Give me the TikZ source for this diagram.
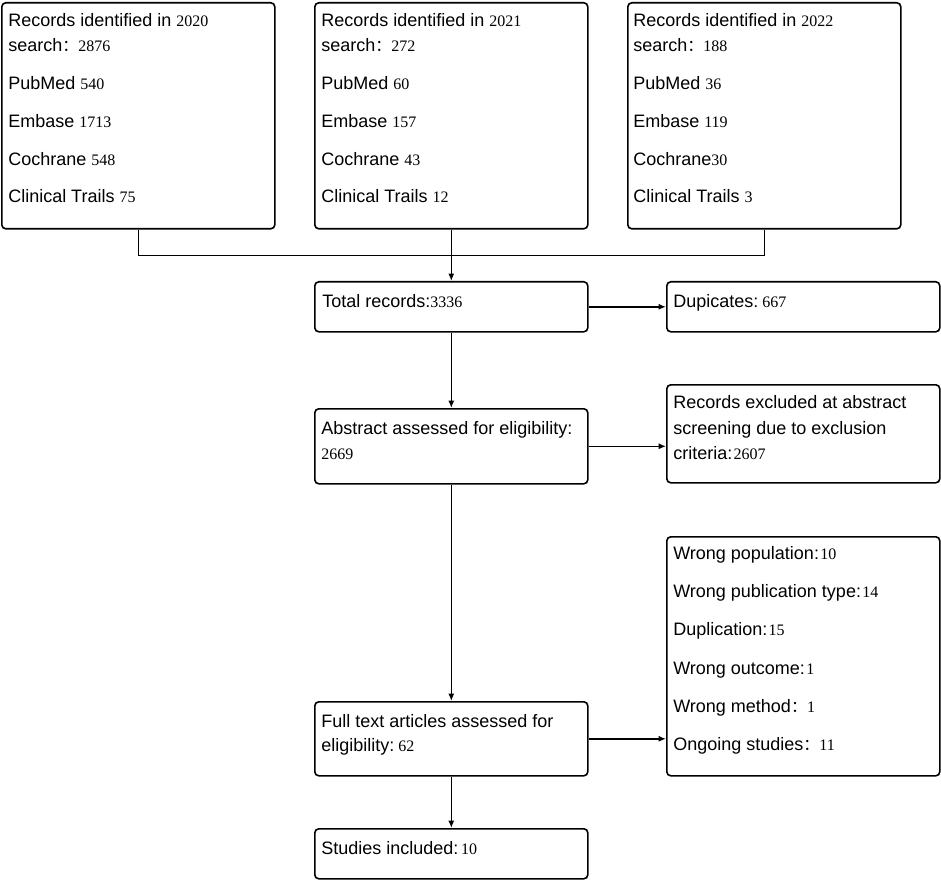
\documentclass[tikz,border=0pt]{standalone}
\usepackage{fontspec}
\setmainfont{Liberation Sans}
\newfontfamily\numfont{Liberation Serif}
\newfontfamily\cjkfont{Noto Sans CJK SC}
\usetikzlibrary{arrows.meta}
\newcommand\nm[1]{{\numfont\fontsize{12pt}{13pt}\selectfont #1}}
\newcommand\fc{{\cjkfont\fontsize{12pt}{13pt}\selectfont ：}}
\begin{document}
\begin{tikzpicture}[x=0.75pt,y=-0.75pt,
  box/.style={draw=black, line width=1.2pt, rounded corners=3pt, inner sep=0pt, anchor=north west, minimum width=273*0.75pt},
  txt/.style={anchor=base west, inner sep=0pt, font=\fontsize{13.5pt}{16pt}\selectfont},
  arr/.style={line width=1.2pt, draw=black, -{Latex[length=5.5pt,width=4.5pt]}},
  ln/.style={line width=1.2pt, draw=black}]
\useasboundingbox (0,0) rectangle (941,880);
% boxes
\node[box, minimum height=226*0.75pt] (b1) at (1,2) {};
\node[box, minimum height=226*0.75pt] (b2) at (314,2) {};
\node[box, minimum height=226*0.75pt] (b3) at (627,2) {};
\node[box, minimum height=50*0.75pt] (total) at (314,281) {};
\node[box, minimum height=50*0.75pt] (dup) at (666,281) {};
\node[box, minimum height=75*0.75pt] (abs) at (314,408) {};
\node[box, minimum height=98*0.75pt] (excl) at (666,384) {};
\node[box, minimum height=74*0.75pt] (full) at (314,701) {};
\node[box, minimum height=239*0.75pt] (wrong) at (666,536) {};
\node[box, minimum height=50*0.75pt] (stud) at (314,828) {};
% box 1
\node[txt] (t1a) at (8,27) {Records identified in \nm{2020}};
\node[txt] (t1b) at (8,52) {search\fc\nm{2876}};
\node[txt] (t1c) at (8,90) {PubMed \nm{540}};
\node[txt] (t1d) at (8,128) {Embase \nm{1713}};
\node[txt] (t1e) at (8,166) {Cochrane \nm{548}};
\node[txt] (t1f) at (8,203) {Clinical Trails \nm{75}};
% box 2
\node[txt] (t2a) at (321,27) {Records identified in \nm{2021}};
\node[txt] (t2b) at (321,52) {search\fc\nm{272}};
\node[txt] (t2c) at (321,90) {PubMed \nm{60}};
\node[txt] (t2d) at (321,128) {Embase \nm{157}};
\node[txt] (t2e) at (321,166) {Cochrane \nm{43}};
\node[txt] (t2f) at (321,203) {Clinical Trails \nm{12}};
% box 3
\node[txt] (t3a) at (633,27) {Records identified in \nm{2022}};
\node[txt] (t3b) at (633,52) {search\fc\nm{188}};
\node[txt] (t3c) at (633,90) {PubMed \nm{36}};
\node[txt] (t3d) at (633,128) {Embase \nm{119}};
\node[txt] (t3e) at (633,166) {Cochrane\nm{30}};
\node[txt] (t3f) at (633,203) {Clinical Trails \nm{3}};
% middle column
\node[txt] (tt) at (322,307) {Total records:\nm{3336}};
\node[txt] (ta1) at (321,434) {Abstract assessed for eligibility:};
\node[txt] (ta2) at (321,459) {\nm{2669}};
\node[txt] (tf1) at (321,727) {Full text articles assessed for};
\node[txt] (tf2) at (321,751) {eligibility:\hspace{3pt}\nm{62}};
\node[txt] (ts) at (321,854) {Studies included:\hspace{2pt}\nm{10}};
% right column
\node[txt] (td) at (673,307) {Dupicates:\hspace{3pt}\nm{667}};
\node[txt] (te1) at (673,408) {Records excluded at abstract};
\node[txt] (te2) at (673,434) {screening due to exclusion};
\node[txt] (te3) at (673,459) {criteria:\hspace{1pt}\nm{2607}};
\node[txt] (tw1) at (673,559) {Wrong population:\hspace{1pt}\nm{10}};
\node[txt] (tw2) at (673,597) {Wrong publication type:\hspace{1pt}\nm{14}};
\node[txt] (tw3) at (673,635) {Duplication:\hspace{1pt}\nm{15}};
\node[txt] (tw4) at (673,674) {Wrong outcome:\hspace{1pt}\nm{1}};
\node[txt] (tw5) at (673,712) {Wrong method\fc\nm{1}};
\node[txt] (tw6) at (673,750) {Ongoing studies\fc\nm{11}};
% connectors
\path (b2.south) ++(0,26) coordinate (j);
\draw[ln] (b1.south) |- (j) -| (b3.south);
\draw[arr] (b2.south) -- (total.north);
\draw[arr] (total.east) -- (dup.west);
\draw[arr] (total.south) -- (abs.north);
\draw[arr] (abs.east) -- (abs.east -| excl.west);
\draw[arr] (abs.south) -- (full.north);
\draw[arr] (full.east) -- (full.east -| wrong.west);
\draw[arr] (full.south) -- (stud.north);
\end{tikzpicture}
\end{document}
